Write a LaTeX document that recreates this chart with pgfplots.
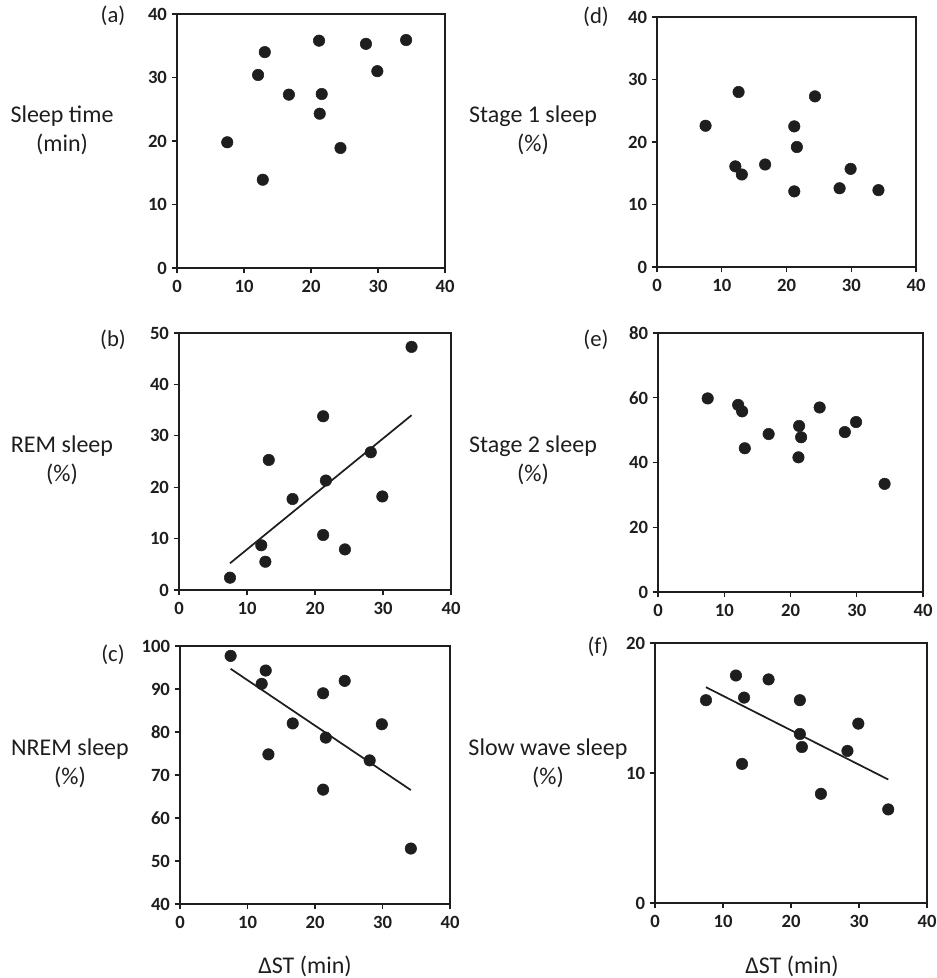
\documentclass[border=0pt]{standalone}
\usepackage{fontspec}
\setmainfont{Carlito}
\usepackage{pgfplots}
\pgfplotsset{compat=1.18}
\definecolor{ink}{HTML}{1E1E1E}
\pgfplotsset{panel/.style={
  scale only axis, xmin=0, xmax=40, xtick={0,10,...,40},
  tick align=outside, xtick pos=left, ytick pos=left,
  axis line style={line width=1.7pt, color=ink},
  major tick length=4pt, tick style={line width=1pt, ink},
  ticklabel style={font=\fontsize{14}{16}\selectfont\bfseries, text=ink},
  xticklabel style={yshift=-2pt},
  /pgf/number format/assume math mode=true,
  clip=false, mark size=4.3pt},
  pts/.style={only marks, mark=*, ink},
  fit/.style={line width=1.3pt, ink, no marks}}
\begin{document}
\begin{tikzpicture}
\useasboundingbox (0,0) rectangle (702.75pt,-733.5pt);
% (a)
\begin{axis}[panel, at={(132.75pt,-201pt)}, anchor=south west, width=201pt, height=190.5pt,
  ymin=0, ymax=40, ytick={0,10,...,40}]
\addplot[pts] coordinates {(7.5,19.8) (12.8,13.9) (12.1,30.4) (13.1,34.0) (16.7,27.3) (21.2,35.8) (21.6,27.4) (21.3,24.3) (24.4,18.9) (28.2,35.3) (29.9,31.0) (34.2,35.9)};
\end{axis}
% (d)
\begin{axis}[panel, at={(492.75pt,-200.25pt)}, anchor=south west, width=194.25pt, height=187.5pt,
  ymin=0, ymax=40, ytick={0,10,...,40}]
\addplot[pts] coordinates {(7.5,22.6) (12.6,28.0) (12.1,16.1) (13.1,14.8) (16.7,16.4) (21.2,22.5) (21.6,19.2) (21.2,12.1) (24.4,27.3) (28.2,12.6) (29.9,15.7) (34.2,12.3)};
\end{axis}
% (b)
\begin{axis}[panel, at={(134.25pt,-442.5pt)}, anchor=south west, width=204pt, height=192.75pt,
  ymin=0, ymax=50, ytick={0,10,...,50}]
\addplot[pts] coordinates {(7.5,2.4) (12.1,8.7) (12.7,5.5) (13.2,25.3) (16.7,17.7) (21.2,33.8) (21.6,21.3) (21.2,10.7) (24.4,7.9) (28.2,26.8) (29.9,18.2) (34.2,47.3)};
\addplot[fit] coordinates {(7.5,5.2) (34.2,34.0)};
\end{axis}
% (e)
\begin{axis}[panel, at={(493.5pt,-444pt)}, anchor=south west, width=198.75pt, height=194.25pt,
  ymin=0, ymax=80, ytick={0,20,...,80}]
\addplot[pts] coordinates {(7.5,59.8) (12.1,57.8) (12.7,55.8) (13.1,44.4) (16.7,48.8) (21.3,51.3) (21.6,47.8) (21.2,41.6) (24.4,57.0) (28.2,49.4) (29.9,52.5) (34.2,33.4)};
\end{axis}
% (c)
\begin{axis}[panel, at={(135pt,-678pt)}, anchor=south west, width=202.5pt, height=193.5pt,
  ymin=40, ymax=100, ytick={40,50,...,100}]
\addplot[pts] coordinates {(7.5,97.7) (12.1,91.2) (12.7,94.3) (13.1,74.8) (16.7,82.0) (21.2,89.0) (21.6,78.7) (21.2,66.6) (24.4,91.9) (28.1,73.4) (29.9,81.8) (34.2,52.9)};
\addplot[fit] coordinates {(7.5,94.7) (34.2,66.5)};
\end{axis}
% (f)
\begin{axis}[panel, at={(491.25pt,-677.25pt)}, anchor=south west, width=204pt, height=195pt,
  ymin=0, ymax=20, ytick={0,10,20}]
\addplot[pts] coordinates {(7.5,15.6) (11.9,17.5) (13.1,15.8) (12.8,10.7) (16.7,17.2) (21.3,15.6) (21.3,13.0) (21.6,12.0) (24.4,8.4) (28.3,11.7) (29.9,13.8) (34.3,7.2)};
\addplot[fit] coordinates {(7.5,16.6) (34.3,9.5)};
\end{axis}
\begin{scope}[x=0.75pt, y=-0.75pt, every node/.style={text=ink, align=center, font=\fontsize{18}{22}\selectfont}]
\node at (62,130) {Sleep time\\(min)};
\node at (533,130) {Stage 1 sleep\\(\%)};
\node at (62,460) {REM sleep\\(\%)};
\node at (533,460) {Stage 2 sleep\\(\%)};
\node at (70,763) {NREM sleep\\(\%)};
\node at (548,763) {Slow wave sleep\\(\%)};
\node at (305,966) {ΔST (min)};
\node at (792,966) {ΔST (min)};
\begin{scope}[every node/.style={text=ink, font=\fontsize{17}{20}\selectfont}]
\node at (113,16) {(a)};
\node at (596,17) {(d)};
\node at (113,340) {(b)};
\node at (596,340) {(e)};
\node at (113,655) {(c)};
\node at (598,647) {(f)};
\end{scope}
\end{scope}
\end{tikzpicture}
\end{document}
